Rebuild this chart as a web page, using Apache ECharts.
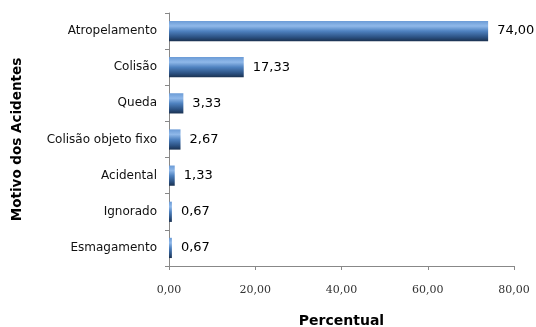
<!DOCTYPE html>
<html>
<head>
<meta charset="utf-8">
<script src="https://cdn.jsdelivr.net/npm/echarts@6/dist/echarts.min.js"></script>
<style>
  html, body { margin: 0; padding: 0; background: #fff; }
  #chart { width: 536px; height: 327px; }
</style>
</head>
<body>
<div id="chart"></div>
<script>
// Accident causes and their share (%)
const categories = ['Atropelamento', 'Colisão', 'Queda', 'Colisão objeto fixo', 'Acidental', 'Ignorado', 'Esmagamento'];
const percentValues = [74.00, 17.33, 3.33, 2.67, 1.33, 0.67, 0.67];
const xTicks = [0, 20, 40, 60, 80];

const fmt = v => v.toFixed(2).replace('.', ',');

const chart = echarts.init(document.getElementById('chart'), null, { renderer: 'canvas' });

// cylinder-like shading across the bar thickness
const barFill = new echarts.graphic.LinearGradient(0, 0, 0, 1, [
  { offset: 0, color: '#6b9bd6' },
  { offset: 0.25, color: '#8fb8e9' },
  { offset: 0.5, color: '#4f82c0' },
  { offset: 0.8, color: '#2c5283' },
  { offset: 1, color: '#1a3150' }
]);

chart.setOption({
  animation: false,
  grid: { left: 169, right: 22, top: 13, bottom: 61, outerBoundsMode: 'none', containLabel: false },
  xAxis: {
    type: 'value',
    min: xTicks[0],
    max: xTicks[xTicks.length - 1],
    interval: 20,
    name: 'Percentual',
    nameLocation: 'middle',
    nameGap: 48,
    nameTextStyle: { fontFamily: 'DejaVu Sans', fontWeight: 'bold', fontSize: 14, color: '#000' },
    axisLine: { show: true, lineStyle: { color: '#888', width: 1 } },
    axisTick: { show: true, inside: false, length: 4, lineStyle: { color: '#888' } },
    axisLabel: { margin: 19, fontFamily: 'DejaVu Serif', fontSize: 11, color: '#333', formatter: v => fmt(v) },
    splitLine: { show: false }
  },
  yAxis: {
    type: 'category',
    data: categories,
    inverse: true,
    name: 'Motivo dos Acidentes',
    nameLocation: 'middle',
    nameGap: 145,
    nameRotate: 90,
    nameTextStyle: { fontFamily: 'DejaVu Sans', fontWeight: 'bold', fontSize: 13.5, color: '#000' },
    axisLine: { show: true, lineStyle: { color: '#888', width: 1 } },
    axisTick: { show: true, length: 4, alignWithLabel: false, lineStyle: { color: '#888' } },
    axisLabel: { margin: 12, fontFamily: 'DejaVu Sans', fontSize: 12, color: '#111' }
  },
  series: [{
    type: 'bar',
    data: percentValues,
    barWidth: '56%',
    itemStyle: { color: barFill },
    label: {
      show: true,
      position: 'right',
      distance: 9,
      fontFamily: 'DejaVu Sans',
      fontSize: 13,
      color: '#000',
      formatter: p => fmt(p.value)
    }
  }]
});
</script>
</body>
</html>
